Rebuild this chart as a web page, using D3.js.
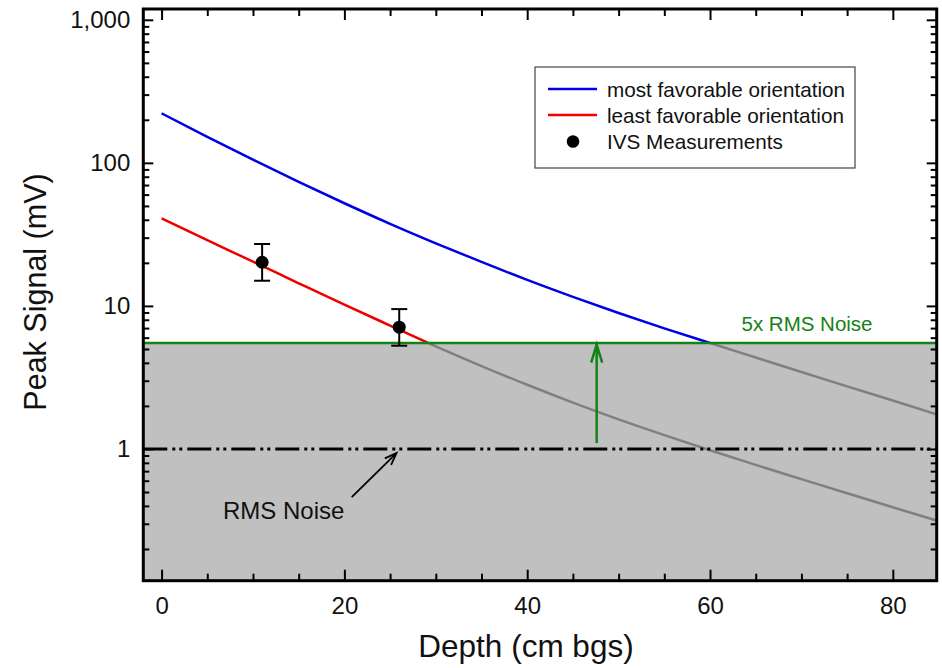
<!DOCTYPE html>
<html>
<head>
<meta charset="utf-8">
<script src="https://cdn.jsdelivr.net/npm/d3@7"></script>
<style>
  body { margin: 0; background: #fff; }
  svg { display: block; font-family: "Liberation Sans", Arial, sans-serif; }
</style>
</head>
<body>
<svg id="chart" width="942" height="668"></svg>
<script>
// ---------- data ----------
const depth = [0, 5, 10, 15, 20, 25, 30, 35, 40, 45, 50, 55, 60, 65, 70, 75, 80, 85];
const mostFavorable = [222, 152.2, 105.4, 73.7, 52.2, 37.5, 27.4, 20.3, 15.2, 11.57, 8.93, 6.97, 5.51, 4.36, 3.45, 2.74, 2.18, 1.73];
const leastFavorable = [40.9, 28.8, 20.4, 14.4, 10.2, 7.29, 5.22, 3.80, 2.81, 2.11, 1.61, 1.25, 0.98, 0.774, 0.615, 0.490, 0.391, 0.313];
const measDepth = [11, 26];
const measSignal = [20.2, 7.1];
const measLow = [15.0, 5.27];
const measHigh = [27.1, 9.5];
const rmsNoise = 1;
const detectLimit = 5.5;
const xTicks = [0, 20, 40, 60, 80];
const yTicks = [1, 10, 100, 1000];
const yTickLabels = ["1", "10", "100", "1,000"];
const legendLabels = ["most favorable orientation", "least favorable orientation", "IVS Measurements"];
const noiseArrowDepth = [47.6, 47.6];
const noiseArrowSignal = [1.1, 5.5];
const rmsArrowDepth = [20.8, 25.7];
const rmsArrowSignal = [0.46, 0.935];

// ---------- layout ----------
const L = 143.3, R = 936.7, T = 9, B = 580.7;
const svg = d3.select("#chart");
const x = d3.scaleLinear().domain([-2, 84.8]).range([L, R]);
const y = d3.scaleLog().domain([0.12, 1190]).range([B, T]);

const defs = svg.append("defs");
defs.append("clipPath").attr("id", "plotClip").append("rect")
  .attr("x", L).attr("y", T).attr("width", R - L).attr("height", B - T);
defs.append("clipPath").attr("id", "aboveClip").append("rect")
  .attr("x", L).attr("y", T).attr("width", R - L).attr("height", y(detectLimit) - T);
defs.append("clipPath").attr("id", "belowClip").append("rect")
  .attr("x", L).attr("y", y(detectLimit)).attr("width", R - L).attr("height", B - y(detectLimit));

// gray region below detection limit
svg.append("rect")
  .attr("x", L).attr("y", y(detectLimit))
  .attr("width", R - L).attr("height", B - y(detectLimit))
  .attr("fill", "#c0c0c0");

const line = d3.line().x((d, i) => x(depth[i])).y(d => y(d)).curve(d3.curveMonotoneX);

const plot = svg.append("g").attr("clip-path", "url(#plotClip)");

// gray (below limit) parts
const below = plot.append("g").attr("clip-path", "url(#belowClip)");
[mostFavorable, leastFavorable].forEach(s => {
  below.append("path").attr("d", line(s)).attr("fill", "none")
    .attr("stroke", "#808080").attr("stroke-width", 2.5);
});

// RMS noise line
plot.append("line")
  .attr("x1", L).attr("x2", R).attr("y1", y(rmsNoise)).attr("y2", y(rmsNoise))
  .attr("stroke", "#000").attr("stroke-width", 3)
  .attr("stroke-dasharray", "24,5,3,4,3,5");

// colored (above limit) parts
const above = plot.append("g").attr("clip-path", "url(#aboveClip)");
above.append("path").attr("d", line(mostFavorable)).attr("fill", "none")
  .attr("stroke", "#0000e6").attr("stroke-width", 2.5);
above.append("path").attr("d", line(leastFavorable)).attr("fill", "none")
  .attr("stroke", "#ee0000").attr("stroke-width", 2.5);

// detection limit line
plot.append("line")
  .attr("x1", L).attr("x2", R).attr("y1", y(detectLimit)).attr("y2", y(detectLimit))
  .attr("stroke", "#148214").attr("stroke-width", 2.5);

// arrows
function arrow(g, x1, y1, x2, y2, color, w, headLen, headW) {
  g.append("line").attr("x1", x1).attr("y1", y1).attr("x2", x2).attr("y2", y2)
    .attr("stroke", color).attr("stroke-width", w);
  const a = Math.atan2(y2 - y1, x2 - x1);
  const px = -Math.sin(a), py = Math.cos(a);
  const bx = x2 - headLen * Math.cos(a), by = y2 - headLen * Math.sin(a);
  g.append("path")
    .attr("d", `M${bx + px * headW},${by + py * headW}L${x2},${y2}L${bx - px * headW},${by - py * headW}`)
    .attr("fill", "none").attr("stroke", color).attr("stroke-width", w)
    .attr("stroke-linejoin", "miter");
}
arrow(svg, x(noiseArrowDepth[0]), y(noiseArrowSignal[0]), x(noiseArrowDepth[1]), y(noiseArrowSignal[1]) + 1.5, "#148214", 2.5, 18, 5.5);
arrow(svg, x(rmsArrowDepth[0]), y(rmsArrowSignal[0]), x(rmsArrowDepth[1]), y(rmsArrowSignal[1]), "#000", 1.8, 12, 4.5);

// measurements with error bars
const meas = svg.append("g");
measDepth.forEach((d, i) => {
  const cx = x(d);
  meas.append("line").attr("x1", cx).attr("x2", cx).attr("y1", y(measLow[i])).attr("y2", y(measHigh[i]))
    .attr("stroke", "#000").attr("stroke-width", 2);
  [measLow[i], measHigh[i]].forEach(v => {
    meas.append("line").attr("x1", cx - 8).attr("x2", cx + 8).attr("y1", y(v)).attr("y2", y(v))
      .attr("stroke", "#000").attr("stroke-width", 2);
  });
  meas.append("circle").attr("cx", cx).attr("cy", y(measSignal[i])).attr("r", 6.5).attr("fill", "#000");
});

// annotations
svg.append("text").attr("x", 741.5).attr("y", 331).attr("fill", "#148214")
  .attr("font-size", 20.5).text("5x RMS Noise");
svg.append("text").attr("x", 223).attr("y", 519).attr("fill", "#111")
  .attr("font-size", 24).text("RMS Noise");

// ---------- axes ----------
function styleAxis(g) {
  g.select(".domain").remove();
  g.selectAll(".tick line").attr("stroke", "#000").attr("stroke-width", 2);
  g.selectAll(".tick text").attr("fill", "#111").attr("font-size", 24)
    .attr("font-family", "Liberation Sans, Arial, sans-serif");
}
const xMinor = d3.range(0, 85, 5).filter(v => !xTicks.includes(v));
const yMinor = [];
[0.1, 1, 10, 100].forEach(dec => { for (let k = 2; k <= 9; k++) { const v = k * dec; if (v >= 0.12 && v <= 1190) yMinor.push(v); } });

// bottom
svg.append("g").attr("transform", `translate(0,${B})`)
  .call(d3.axisBottom(x).tickValues(xTicks).tickSize(-11).tickPadding(16).tickFormat(d3.format("d")))
  .call(styleAxis);
svg.append("g").attr("transform", `translate(0,${B})`)
  .call(d3.axisBottom(x).tickValues(xMinor).tickSize(-7).tickFormat(""))
  .call(styleAxis);
// top
svg.append("g").attr("transform", `translate(0,${T})`)
  .call(d3.axisTop(x).tickValues(xTicks).tickSize(-11).tickFormat(""))
  .call(styleAxis);
svg.append("g").attr("transform", `translate(0,${T})`)
  .call(d3.axisTop(x).tickValues(xMinor).tickSize(-7).tickFormat(""))
  .call(styleAxis);
// left
svg.append("g").attr("transform", `translate(${L},0)`)
  .call(d3.axisLeft(y).tickValues(yTicks).tickSize(-10).tickPadding(13)
    .tickFormat((d, i) => yTickLabels[i]))
  .call(styleAxis);
svg.append("g").attr("transform", `translate(${L},0)`)
  .call(d3.axisLeft(y).tickValues(yMinor).tickSize(-6).tickFormat(""))
  .call(styleAxis);
// right
svg.append("g").attr("transform", `translate(${R},0)`)
  .call(d3.axisRight(y).tickValues(yTicks).tickSize(-10).tickFormat(""))
  .call(styleAxis);
svg.append("g").attr("transform", `translate(${R},0)`)
  .call(d3.axisRight(y).tickValues(yMinor).tickSize(-6).tickFormat(""))
  .call(styleAxis);

// frame
svg.append("rect").attr("x", L).attr("y", T).attr("width", R - L).attr("height", B - T)
  .attr("fill", "none").attr("stroke", "#000").attr("stroke-width", 3);

// axis titles
svg.append("text").attr("x", 526).attr("y", 657).attr("text-anchor", "middle")
  .attr("font-size", 31.5).attr("fill", "#111").text("Depth (cm bgs)");
svg.append("text").attr("transform", "translate(46,292) rotate(-90)").attr("text-anchor", "middle")
  .attr("font-size", 30.5).attr("fill", "#111").text("Peak Signal (mV)");

// ---------- legend ----------
const lg = svg.append("g");
lg.append("rect").attr("x", 535).attr("y", 67).attr("width", 320).attr("height", 101)
  .attr("fill", "#fff").attr("stroke", "#444").attr("stroke-width", 1.2);
const legendColors = ["#0000e6", "#ee0000", null];
legendLabels.forEach((lab, i) => {
  const by = 96.5 + i * 26;
  if (legendColors[i]) {
    lg.append("line").attr("x1", 548).attr("x2", 597).attr("y1", by - 7.5).attr("y2", by - 7.5)
      .attr("stroke", legendColors[i]).attr("stroke-width", 2.5);
  } else {
    lg.append("circle").attr("cx", 573).attr("cy", by - 7).attr("r", 6.3).attr("fill", "#000");
  }
  lg.append("text").attr("x", 607).attr("y", by).attr("font-size", 20.7).attr("fill", "#111").text(lab);
});
</script>
</body>
</html>
